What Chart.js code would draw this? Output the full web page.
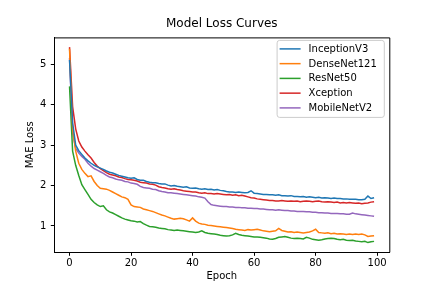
<!DOCTYPE html>
<html>
<head>
<meta charset="utf-8">
<style>
  html, body { margin: 0; padding: 0; background: #fff; }
  #wrap { width: 432px; height: 288px; }
</style>
<script src="https://cdn.jsdelivr.net/npm/chart.js@4/dist/chart.umd.min.js"></script>
</head>
<body>
<div id="wrap"><canvas id="c" width="432" height="288"></canvas></div>
<script>
const epochs = Array.from({ length: 100 }, (_, i) => i);
const xTickValues = [0, 20, 40, 60, 80, 100];
const yTickValues = [1, 2, 3, 4, 5];
const seriesNames = ['InceptionV3', 'DenseNet121', 'ResNet50', 'Xception', 'MobileNetV2'];

const inceptionV3 = [
  5.10, 3.55, 3.00, 2.86, 2.77, 2.68, 2.61, 2.55, 2.50, 2.46,
  2.43, 2.40, 2.36, 2.33, 2.31, 2.28, 2.25, 2.23, 2.21, 2.19,
  2.18, 2.19, 2.15, 2.13, 2.13, 2.10, 2.08, 2.07, 2.07, 2.05,
  2.04, 2.04, 2.01, 1.99, 2.00, 1.98, 1.97, 1.96, 1.97, 1.94,
  1.93, 1.94, 1.92, 1.91, 1.92, 1.90, 1.91, 1.89, 1.90, 1.88,
  1.87, 1.85, 1.84, 1.84, 1.83, 1.84, 1.83, 1.82, 1.83, 1.87,
  1.81, 1.80, 1.79, 1.78, 1.78, 1.77, 1.77, 1.76, 1.77, 1.75,
  1.75, 1.74, 1.75, 1.73, 1.73, 1.72, 1.73, 1.71, 1.72, 1.71,
  1.70, 1.71, 1.69, 1.70, 1.69, 1.68, 1.69, 1.68, 1.68, 1.67,
  1.67, 1.66, 1.66, 1.66, 1.65, 1.65, 1.66, 1.74, 1.68, 1.70
];
const denseNet121 = [
  5.38, 3.40, 2.85, 2.55, 2.40, 2.30, 2.22, 2.24, 2.10, 2.00,
  1.93, 1.92, 1.91, 1.88, 1.84, 1.80, 1.76, 1.72, 1.70, 1.66,
  1.52, 1.48, 1.47, 1.46, 1.42, 1.40, 1.38, 1.36, 1.33, 1.30,
  1.27, 1.25, 1.22, 1.19, 1.17, 1.18, 1.19, 1.18, 1.15, 1.12,
  1.20, 1.12, 1.07, 1.05, 1.04, 1.02, 1.01, 1.00, 0.99, 0.98,
  0.97, 0.96, 0.95, 0.94, 0.92, 0.91, 0.90, 0.89, 0.91, 0.90,
  0.91, 0.92, 0.90, 0.88, 0.87, 0.86, 0.87, 0.88, 0.94, 0.89,
  0.87, 0.85, 0.86, 0.84, 0.85, 0.84, 0.83, 0.84, 0.85, 0.88,
  0.92, 0.84, 0.83, 0.82, 0.83, 0.81, 0.82, 0.80, 0.81, 0.80,
  0.79, 0.80, 0.79, 0.80, 0.79, 0.80, 0.78, 0.74, 0.75, 0.76
];
const resNet50 = [
  4.45, 2.85, 2.50, 2.25, 2.02, 1.90, 1.78, 1.66, 1.58, 1.52,
  1.48, 1.50, 1.40, 1.35, 1.32, 1.28, 1.24, 1.20, 1.17, 1.15,
  1.13, 1.12, 1.10, 1.11, 1.06, 1.02, 0.99, 0.98, 0.97, 0.95,
  0.94, 0.93, 0.91, 0.90, 0.89, 0.90, 0.89, 0.88, 0.87, 0.86,
  0.85, 0.84, 0.85, 0.88, 0.84, 0.82, 0.81, 0.80, 0.79, 0.77,
  0.76, 0.75, 0.76, 0.78, 0.82, 0.79, 0.77, 0.76, 0.75, 0.74,
  0.73, 0.73, 0.72, 0.71, 0.70, 0.68, 0.67, 0.69, 0.72, 0.73,
  0.74, 0.72, 0.70, 0.69, 0.70, 0.69, 0.68, 0.72, 0.70, 0.67,
  0.66, 0.65, 0.66, 0.68, 0.69, 0.70, 0.69, 0.67, 0.66, 0.67,
  0.65, 0.64, 0.65, 0.63, 0.62, 0.61, 0.62, 0.59, 0.61, 0.62
];
const xception = [
  5.42, 3.95, 3.40, 3.10, 2.95, 2.85, 2.76, 2.68, 2.57, 2.48,
  2.42, 2.37, 2.32, 2.28, 2.26, 2.24, 2.21, 2.20, 2.17, 2.15,
  2.14, 2.13, 2.11, 2.08, 2.07, 2.06, 2.04, 2.03, 2.01, 1.97,
  1.95, 1.94, 1.92, 1.91, 1.92, 1.90, 1.89, 1.87, 1.86, 1.85,
  1.84, 1.84, 1.82, 1.81, 1.82, 1.80, 1.80, 1.79, 1.80, 1.79,
  1.78, 1.77, 1.78, 1.76, 1.77, 1.75, 1.76, 1.74, 1.72, 1.70,
  1.69, 1.67, 1.66, 1.65, 1.64, 1.63, 1.63, 1.62, 1.62, 1.63,
  1.62, 1.61, 1.62, 1.61, 1.62, 1.60, 1.61, 1.62, 1.61, 1.60,
  1.61, 1.62, 1.60, 1.59, 1.60, 1.59, 1.58, 1.59, 1.57, 1.58,
  1.57, 1.58, 1.57, 1.56, 1.57, 1.55, 1.56, 1.57, 1.59, 1.60
];
const mobileNetV2 = [
  5.15, 3.30, 2.92, 2.80, 2.72, 2.65, 2.55, 2.48, 2.42, 2.38,
  2.34, 2.30, 2.25, 2.21, 2.19, 2.16, 2.14, 2.13, 2.10, 2.09,
  2.06, 2.05, 2.03, 1.98, 1.95, 1.94, 1.93, 1.91, 1.90, 1.87,
  1.85, 1.84, 1.82, 1.82, 1.81, 1.80, 1.79, 1.78, 1.77, 1.76,
  1.75, 1.74, 1.72, 1.71, 1.69, 1.60, 1.53, 1.51, 1.50, 1.49,
  1.48, 1.48, 1.47, 1.47, 1.46, 1.46, 1.45, 1.45, 1.44, 1.44,
  1.43, 1.43, 1.42, 1.42, 1.41, 1.40, 1.40, 1.39, 1.40, 1.39,
  1.38, 1.38, 1.37, 1.37, 1.36, 1.36, 1.36, 1.35, 1.35, 1.34,
  1.34, 1.33, 1.33, 1.32, 1.32, 1.31, 1.31, 1.31, 1.30, 1.30,
  1.29, 1.29, 1.32, 1.30, 1.29, 1.28, 1.27, 1.26, 1.25, 1.24
];

const seriesValues = [inceptionV3, denseNet121, resNet50, xception, mobileNetV2];
const seriesColors = ['#1f77b4', '#ff7f0e', '#2ca02c', '#d62728', '#9467bd'];

const FONT = "'DejaVu Sans', 'Liberation Sans', sans-serif";
Chart.defaults.font.family = FONT;
Chart.defaults.color = '#000';

// Top and right spines
const framePlugin = {
  id: 'frame',
  afterDatasetsDraw(chart) {
    const { ctx, chartArea: a } = chart;
    ctx.save();
    ctx.strokeStyle = '#000';
    ctx.lineWidth = 1;
    ctx.beginPath();
    ctx.moveTo(a.left, a.top + 0.5);
    ctx.lineTo(a.right + 0.5, a.top + 0.5);
    ctx.lineTo(a.right + 0.5, a.bottom);
    ctx.stroke();
    ctx.restore();
  }
};

// Matplotlib-style legend in the upper right of the plot area
const legendPlugin = {
  id: 'mplLegend',
  afterDatasetsDraw(chart) {
    const { ctx, chartArea: a } = chart;
    const sets = chart.data.datasets;
    ctx.save();
    ctx.font = '10px ' + FONT;
    let maxW = 0;
    sets.forEach(d => { maxW = Math.max(maxW, ctx.measureText(d.label).width); });
    const padL = 2.5, handle = 21, gap = 8, padR = 7.5;
    const w = padL + handle + gap + maxW + padR;
    const right = a.right - 5;
    const left = right - w;
    const top = a.top + 3;
    const rowH = 14.75;
    const h = 8 + rowH * (sets.length - 1) + 10;
    const r = 2.5;
    ctx.beginPath();
    ctx.moveTo(left + r, top);
    ctx.lineTo(right - r, top);
    ctx.quadraticCurveTo(right, top, right, top + r);
    ctx.lineTo(right, top + h - r);
    ctx.quadraticCurveTo(right, top + h, right - r, top + h);
    ctx.lineTo(left + r, top + h);
    ctx.quadraticCurveTo(left, top + h, left, top + h - r);
    ctx.lineTo(left, top + r);
    ctx.quadraticCurveTo(left, top, left + r, top);
    ctx.closePath();
    ctx.fillStyle = 'rgba(255,255,255,0.8)';
    ctx.fill();
    ctx.strokeStyle = '#cccccc';
    ctx.lineWidth = 1;
    ctx.stroke();
    ctx.textBaseline = 'middle';
    ctx.textAlign = 'left';
    sets.forEach((d, i) => {
      const y = top + 8.5 + i * rowH;
      ctx.strokeStyle = d.borderColor;
      ctx.lineWidth = 1.5;
      ctx.beginPath();
      ctx.moveTo(left + padL, y);
      ctx.lineTo(left + padL + handle, y);
      ctx.stroke();
      ctx.fillStyle = '#000';
      ctx.fillText(d.label, left + padL + handle + gap, y + 0.5);
    });
    ctx.restore();
  }
};

new Chart(document.getElementById('c'), {
  type: 'line',
  data: {
    labels: epochs,
    datasets: seriesNames.map((name, i) => ({
      label: name,
      data: seriesValues[i],
      borderColor: seriesColors[i],
      backgroundColor: seriesColors[i],
      borderWidth: 1.5,
      pointRadius: 0,
      pointHoverRadius: 0,
      tension: 0,
      fill: false
    }))
  },
  options: {
    responsive: false,
    animation: false,
    devicePixelRatio: 1,
    layout: { padding: { left: 0, right: 42.7, top: 0, bottom: 0 } },
    plugins: {
      legend: { display: false },
      tooltip: { enabled: false },
      title: {
        display: true,
        text: 'Model Loss Curves',
        fullSize: false,
        color: '#000',
        font: { size: 12, weight: 'normal', family: FONT },
        padding: { top: 17, bottom: 6 }
      }
    },
    scales: {
      x: {
        type: 'linear',
        min: -4.95,
        max: 103.95,
        afterBuildTicks: s => { s.ticks = xTickValues.map(v => ({ value: v })); },
        afterFit: s => { s.height = 35.7; },
        grid: { drawOnChartArea: false, drawTicks: true, tickLength: 3.5, tickColor: '#000', tickWidth: 1 },
        border: { display: true, color: '#000', width: 1 },
        ticks: { color: '#000', font: { size: 10, family: FONT }, padding: 1.5, maxRotation: 0, autoSkip: false },
        title: { display: true, text: 'Epoch', color: '#000', font: { size: 10, family: FONT }, padding: { top: 0, bottom: 5.3 } }
      },
      y: {
        type: 'linear',
        min: 0.35,
        max: 5.66,
        afterBuildTicks: s => { s.ticks = yTickValues.map(v => ({ value: v })); },
        afterFit: s => { s.width = 54.3; },
        grid: { drawOnChartArea: false, drawTicks: true, tickLength: 3.5, tickColor: '#000', tickWidth: 1 },
        border: { display: true, color: '#000', width: 1 },
        ticks: { color: '#000', font: { size: 10, family: FONT }, padding: 4.5, autoSkip: false },
        title: { display: true, text: 'MAE Loss', color: '#000', font: { size: 10, family: FONT }, padding: { top: 24, bottom: 0 } }
      }
    }
  },
  plugins: [framePlugin, legendPlugin]
});
</script>
</body>
</html>
